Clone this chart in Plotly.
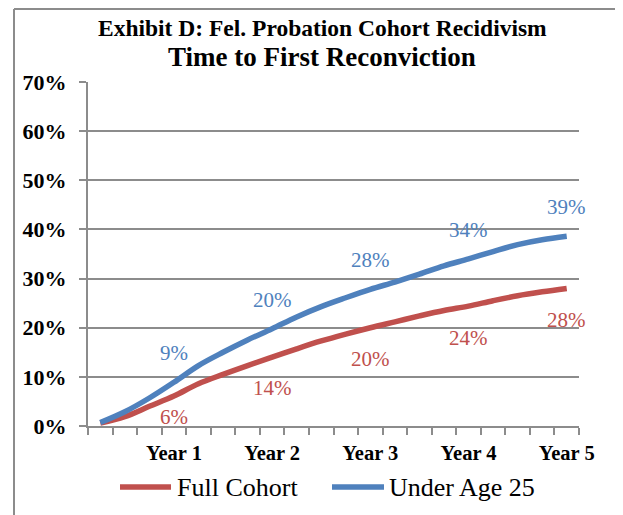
import plotly.graph_objects as go

# Quarterly points (20 quarters over 5 years)
quarters = list(range(20))
full_cohort = [0.6, 1.9, 4.0, 6.1, 8.6, 10.5, 12.3, 14.0, 15.7, 17.3, 18.7, 20.0,
               21.2, 22.4, 23.5, 24.4, 25.5, 26.5, 27.3, 28.0]
under_25 = [0.7, 2.9, 5.7, 8.9, 12.3, 15.0, 17.5, 19.8, 22.2, 24.3, 26.1, 27.8,
            29.3, 30.9, 32.6, 34.0, 35.5, 36.9, 37.9, 38.6]
year_labels = ["Year 1", "Year 2", "Year 3", "Year 4", "Year 5"]
year_idx = [3, 7, 11, 15, 19]
full_labels = ["6%", "14%", "20%", "24%", "28%"]
under_labels = ["9%", "20%", "28%", "34%", "39%"]
series_names = ["Full Cohort", "Under Age 25"]

RED = "#C0504D"
BLUE = "#4F81BD"
GRID = "#8C8C8C"
FONT = "Liberation Serif"

OFF = 8  # page body margin
W, H = 623 - OFF, 515 - OFF
L, R, T, B = 88 - OFF, W - (579 - OFF), 82 - OFF, H - (426 - OFF)
pw = W - L - R
ph = H - T - B

def px_x(px):  # screen pixel -> paper x
    return (px - OFF - L) / pw

def px_y(py):  # screen pixel -> paper y
    return 1 - (py - OFF - T) / ph

fig = go.Figure()
fig.add_trace(go.Scatter(x=quarters, y=[v / 100 for v in full_cohort], mode="lines",
                         name=series_names[0], line=dict(color=RED, width=5.5, shape="spline")))
fig.add_trace(go.Scatter(x=quarters, y=[v / 100 for v in under_25], mode="lines",
                         name=series_names[1], line=dict(color=BLUE, width=5.5, shape="spline")))

annotations = []
red_shift = [-21, -31, -31, -32, -32]
for k, (i, t) in enumerate(zip(year_idx, full_labels)):
    annotations.append(dict(x=i, y=full_cohort[i] / 100, text=t, showarrow=False,
                            yshift=red_shift[k], font=dict(family=FONT, size=21, color=RED)))
for i, t in zip(year_idx, under_labels):
    annotations.append(dict(x=i, y=under_25[i] / 100, text=t, showarrow=False,
                            yshift=29, font=dict(family=FONT, size=21, color=BLUE)))

annotations.append(dict(xref="paper", yref="paper", x=px_x(322), y=px_y(28),
                        xanchor="center", yanchor="middle",
                        text="<b>Exhibit D: Fel. Probation Cohort Recidivism</b>",
                        showarrow=False, font=dict(family=FONT, size=23.5, color="black")))
annotations.append(dict(xref="paper", yref="paper", x=px_x(322), y=px_y(57),
                        xanchor="center", yanchor="middle",
                        text="<b>Time to First Reconviction</b>",
                        showarrow=False, font=dict(family=FONT, size=27, color="black")))

# frame and custom legend
shapes = [
    dict(type="line", xref="paper", yref="paper", x0=px_x(14), x1=px_x(14),
         y0=px_y(9), y1=px_y(540), line=dict(color=GRID, width=2)),
    dict(type="line", xref="paper", yref="paper", x0=px_x(14), x1=px_x(640),
         y0=px_y(9), y1=px_y(9), line=dict(color=GRID, width=2)),
    dict(type="line", xref="paper", yref="paper", x0=px_x(120), x1=px_x(171),
         y0=px_y(487), y1=px_y(487), line=dict(color=RED, width=5.5)),
    dict(type="line", xref="paper", yref="paper", x0=px_x(332), x1=px_x(384),
         y0=px_y(487), y1=px_y(487), line=dict(color=BLUE, width=5.5)),
]
annotations.append(dict(xref="paper", yref="paper", x=px_x(175), y=px_y(487),
                        xanchor="left", yanchor="middle",
                        text=series_names[0], showarrow=False,
                        font=dict(family=FONT, size=26, color="black")))
annotations.append(dict(xref="paper", yref="paper", x=px_x(387), y=px_y(487),
                        xanchor="left", yanchor="middle",
                        text=series_names[1], showarrow=False,
                        font=dict(family=FONT, size=26, color="black")))

fig.update_layout(
    width=W, height=H,
    margin=dict(l=L, r=R, t=T, b=B, autoexpand=False),
    paper_bgcolor="white", plot_bgcolor="white",
    annotations=annotations, shapes=shapes,
    showlegend=False,
)
fig.update_xaxes(range=[-0.5, 19.5], tickmode="array", tickvals=year_idx,
                 ticktext=[f"<b>{t}</b>" for t in year_labels],
                 ticks="", showgrid=False, zeroline=False,
                 showline=True, linecolor=GRID, linewidth=2,
                 tickfont=dict(family=FONT, size=20.5, color="black"),
                 ticklabelstandoff=7,
                 minor=dict(ticks="outside", tick0=-0.5, dtick=1, ticklen=7,
                            tickcolor=GRID, tickwidth=1.5, showgrid=False))
fig.update_yaxes(range=[0, 0.7], tickmode="array", tickvals=[i / 10 for i in range(8)],
                 ticktext=[f"<b>{i * 10}%</b>" for i in range(8)],
                 showgrid=True, gridcolor=GRID, gridwidth=1.5, zeroline=False,
                 showline=True, linecolor=GRID, linewidth=2,
                 ticks="outside", ticklen=7, tickcolor=GRID, tickwidth=1.5,
                 tickfont=dict(family=FONT, size=22, color="black"),
                 ticklabelstandoff=8)

fig.write_html("out.html", config={"displayModeBar": False})
